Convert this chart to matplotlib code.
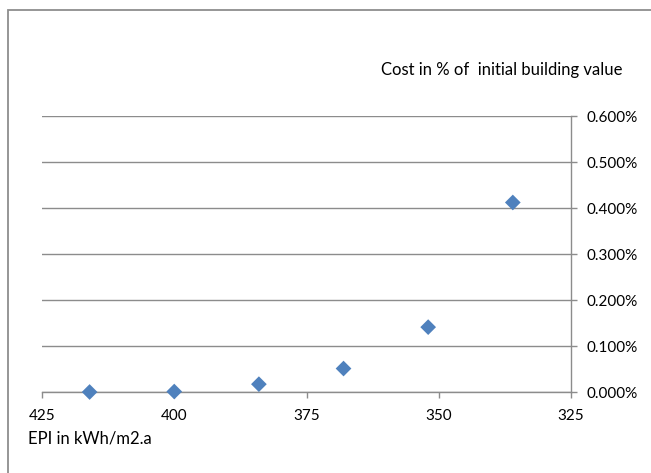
import matplotlib
matplotlib.use("Agg")
import matplotlib.pyplot as plt
from matplotlib.patches import Rectangle
from matplotlib.ticker import FuncFormatter, MultipleLocator

# Data
epi = [416, 400, 384, 368, 352, 336]
cost_pct = [0.000, 0.001, 0.017, 0.051, 0.141, 0.412]
y_title = "Cost in % of  initial building value"
x_title = "EPI in kWh/m2.a"

plt.rcParams['font.family'] = ['Lato', 'DejaVu Sans']

fig = plt.figure(figsize=(6.51, 4.73), dpi=100)
W, H = 651, 473

# outer chart border (partly cropped)
fig.patches.append(Rectangle((7.5 / W, -0.1), 1.2, (H - 10.5) / H + 0.1,
                             transform=fig.transFigure, fill=False,
                             edgecolor='#8e8e8e', linewidth=1.3))

ax = fig.add_axes([42 / W, (H - 392) / H, (571 - 42) / W, (392 - 116) / H])

grid_c = '#8c8c8c'
ax.scatter(epi, cost_pct, marker='D', s=64, color='#4F81BD', zorder=3,
           edgecolors='none', clip_on=False)

ax.set_xlim(425, 325)
ax.set_ylim(0, 0.6)
ax.xaxis.set_major_locator(MultipleLocator(25))
ax.yaxis.set_major_locator(MultipleLocator(0.1))
ax.yaxis.set_major_formatter(FuncFormatter(lambda v, p: f"{v:.3f}%"))

ax.yaxis.tick_right()
ax.grid(axis='y', color=grid_c, linewidth=1.0)
ax.set_axisbelow(True)
for s in ['top', 'left']:
    ax.spines[s].set_visible(False)
for s in ['bottom', 'right']:
    ax.spines[s].set_color(grid_c)
    ax.spines[s].set_linewidth(1.0)

ax.tick_params(axis='x', direction='out', length=4, color=grid_c, width=1.0,
               labelsize=11, pad=8.5, labelcolor='black')
ax.tick_params(axis='y', direction='out', length=4, color=grid_c, width=1.0,
               labelsize=11, pad=7.5, labelcolor='black')

fig.text(381 / W, 1 - 70 / H, y_title, fontsize=12, ha='left', va='center')
fig.text(28 / W, 1 - 438 / H, x_title, fontsize=12, ha='left', va='center')

fig.savefig('out.png', dpi=100)
